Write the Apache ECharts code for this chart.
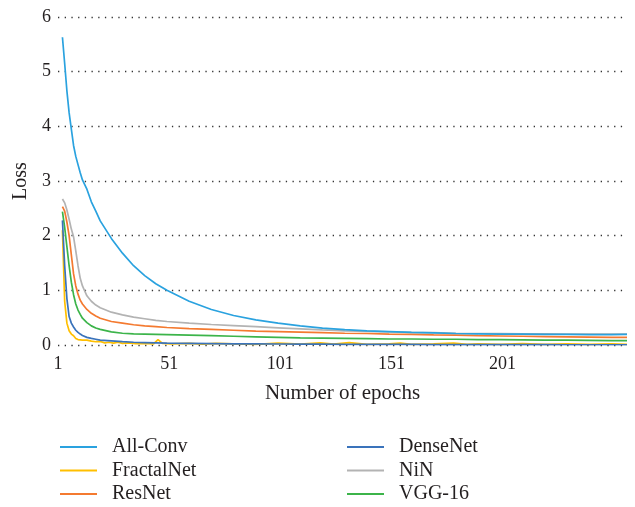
<!DOCTYPE html>
<html>
<head>
<meta charset="utf-8">
<script src="https://cdn.jsdelivr.net/npm/echarts@6/dist/echarts.min.js"></script>
<style>html,body{margin:0;padding:0;background:#fff}#c{width:635px;height:507px}</style>
</head>
<body>
<div id="c"></div>
<script>
const seriesNames = ['All-Conv', 'FractalNet', 'ResNet', 'DenseNet', 'NiN', 'VGG-16'];
const xTickLabels = [1, 51, 101, 151, 201];
const epochs = [3,4,5,6,7,8,9,10,11,12,14,16,18,20,25,30,35,40,45,50,60,70,80,90,100,110,120,130,140,150,160,170,180,190,200,210,220,230,240,250,257];
const allConvLoss = [5.63,5.15,4.65,4.25,3.95,3.65,3.45,3.3,3.15,3.02,2.85,2.62,2.45,2.27,1.95,1.68,1.45,1.27,1.12,1.0,0.8,0.65,0.54,0.46,0.40,0.35,0.31,0.28,0.26,0.245,0.23,0.22,0.21,0.205,0.2,0.2,0.195,0.195,0.19,0.19,0.195];
const ninLoss = [2.67,2.6,2.47,2.3,2.12,1.98,1.72,1.45,1.22,1.08,0.9,0.8,0.73,0.68,0.6,0.55,0.51,0.48,0.45,0.43,0.4,0.375,0.355,0.335,0.315,0.295,0.275,0.26,0.25,0.24,0.23,0.225,0.215,0.21,0.21,0.205,0.205,0.2,0.2,0.2,0.2];
const resNetLoss = [2.53,2.45,2.25,2.0,1.65,1.3,1.08,0.93,0.82,0.75,0.65,0.58,0.53,0.49,0.43,0.4,0.37,0.35,0.335,0.32,0.3,0.285,0.27,0.255,0.245,0.235,0.225,0.215,0.21,0.2,0.195,0.185,0.18,0.17,0.165,0.16,0.155,0.15,0.145,0.14,0.14];
const vggLoss = [2.44,2.15,1.8,1.45,1.15,0.92,0.75,0.64,0.56,0.49,0.41,0.35,0.31,0.285,0.24,0.215,0.205,0.2,0.195,0.19,0.18,0.17,0.16,0.15,0.14,0.13,0.125,0.12,0.115,0.11,0.11,0.105,0.105,0.1,0.1,0.095,0.09,0.09,0.085,0.08,0.08];
const denseNetLoss = [2.28,1.45,0.85,0.52,0.4,0.33,0.27,0.23,0.2,0.175,0.14,0.12,0.105,0.09,0.075,0.06,0.05,0.045,0.04,0.035,0.03,0.025,0.02,0.02,0.018,0.015,0.015,0.012,0.012,0.01,0.01,0.008,0.008,0.007,0.007,0.006,0.006,0.005,0.005,0.005,0.005];
const fractalEpochs = [3,4,5,6,7,8,9,10,12,14,16,18,20,22,24,26,28,30,33,36,40,44,46,48,52,60,66,72,80,90,100,110,119,125,132,140,150,155,160,170,179,185,190,200,210,220,230,240,250,257];
const fractalLoss = [2.1,0.8,0.4,0.26,0.2,0.17,0.12,0.1,0.09,0.09,0.07,0.06,0.065,0.04,0.05,0.035,0.05,0.03,0.04,0.025,0.03,0.02,0.1,0.03,0.02,0.03,0.015,0.03,0.02,0.01,0.035,0.015,0.04,0.015,0.045,0.01,0.02,0.035,0.01,0.02,0.035,0.01,0.02,0.01,0.025,0.01,0.02,0.01,0.02,0.01];

const colors = {
  'All-Conv': '#2aa2df',
  'FractalNet': '#ffbf00',
  'ResNet': '#f47a30',
  'DenseNet': '#3a73bb',
  'NiN': '#b3b3b3',
  'VGG-16': '#3cb44a'
};
const seriesData = {
  'All-Conv': [epochs, allConvLoss],
  'FractalNet': [fractalEpochs, fractalLoss],
  'ResNet': [epochs, resNetLoss],
  'DenseNet': [epochs, denseNetLoss],
  'NiN': [epochs, ninLoss],
  'VGG-16': [epochs, vggLoss]
};
const drawOrder = ['NiN', 'ResNet', 'VGG-16', 'All-Conv', 'FractalNet', 'DenseNet'];
const font = 'Liberation Serif';
const txt = '#231f20';

const chart = echarts.init(document.getElementById('c'), null, {renderer: 'canvas'});
const legendCommon = {
  orient: 'vertical',
  top: 437,
  height: 70,
  padding: 0,
  itemWidth: 37,
  itemHeight: 2,
  itemGap: 3.5,
  icon: 'rect',
  textStyle: {fontFamily: font, fontSize: 20, color: txt, padding: [0, 0, 0, 10], lineHeight: 20}
};
chart.setOption({
  animation: false,
  backgroundColor: '#fff',
  grid: {left: 58, right: 8, top: 17, bottom: 162},
  legend: [
    Object.assign({left: 60, data: ['All-Conv', 'FractalNet', 'ResNet']}, legendCommon),
    Object.assign({left: 347, data: ['DenseNet', 'NiN', 'VGG-16']}, legendCommon)
  ],
  xAxis: {
    type: 'value', min: 1, max: 257, interval: 50,
    name: 'Number of epochs', nameLocation: 'middle', nameGap: 38,
    nameTextStyle: {fontFamily: font, fontSize: 21, color: txt},
    axisLine: {show: false}, axisTick: {show: false}, splitLine: {show: false},
    axisLabel: {
      fontFamily: font, fontSize: 18, color: txt, margin: 10, showMaxLabel: false,
      formatter: v => xTickLabels.indexOf(v) >= 0 ? String(v) : ''
    }
  },
  yAxis: {
    type: 'value', min: 0, max: 6, interval: 1,
    name: 'Loss', nameLocation: 'middle', nameGap: 22,
    nameTextStyle: {fontFamily: font, fontSize: 20, color: txt},
    axisLine: {show: false}, axisTick: {show: false},
    axisLabel: {fontFamily: font, fontSize: 18, color: txt, margin: 7},
    splitLine: {show: true, lineStyle: {color: '#333', width: 1.3, type: [1.3, 5.4]}}
  },
  series: drawOrder.map(n => ({
    name: n, type: 'line', showSymbol: false, symbol: 'none', smooth: false,
    color: colors[n],
    lineStyle: {width: 1.7, color: colors[n]},
    data: seriesData[n][0].map((e, i) => [e, seriesData[n][1][i]])
  }))
});
</script>
</body>
</html>
